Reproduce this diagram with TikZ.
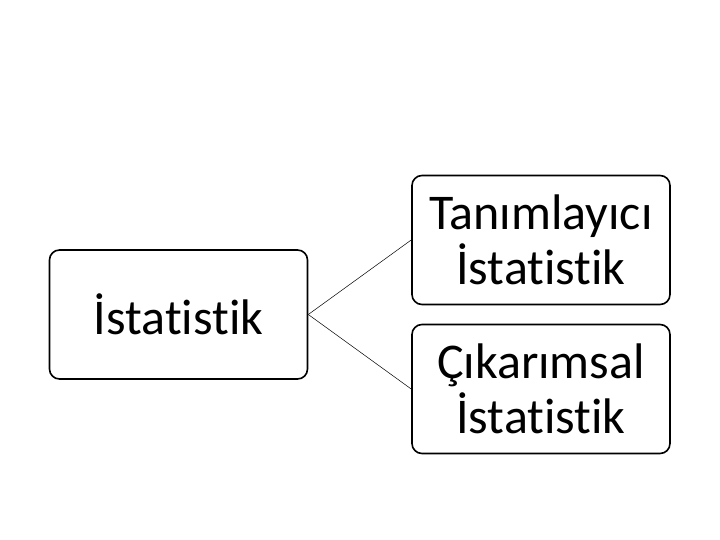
\documentclass[tikz,border=0pt]{standalone}
\usepackage{fontspec}
\setmainfont{Carlito}[Ligatures={NoCommon,NoRequired,NoContextual}]
\tikzset{
  kutu/.style={draw, line width=1.6pt, rounded corners=10pt, fill=white,
    minimum width=258pt, minimum height=129pt, inner sep=0pt,
    align=center, font=\fontsize{50}{55}\selectfont},
  bag/.style={line width=0.5pt}
}
\begin{document}
\begin{tikzpicture}[x=1pt, y=-1pt]
\useasboundingbox (0, 0) rectangle (720, 540);
\node[kutu] (stat) at (178.5, 314.5) {İstatistik};
\node[kutu] (tanim) at (541, 240) {Tanımlayıcı\\İstatistik};
\node[kutu] (cikar) at (541, 389) {Çıkarımsal\\İstatistik};
\draw[bag] (stat.east) -- (tanim.west);
\draw[bag] (stat.east) -- (cikar.west);
\end{tikzpicture}
\end{document}
